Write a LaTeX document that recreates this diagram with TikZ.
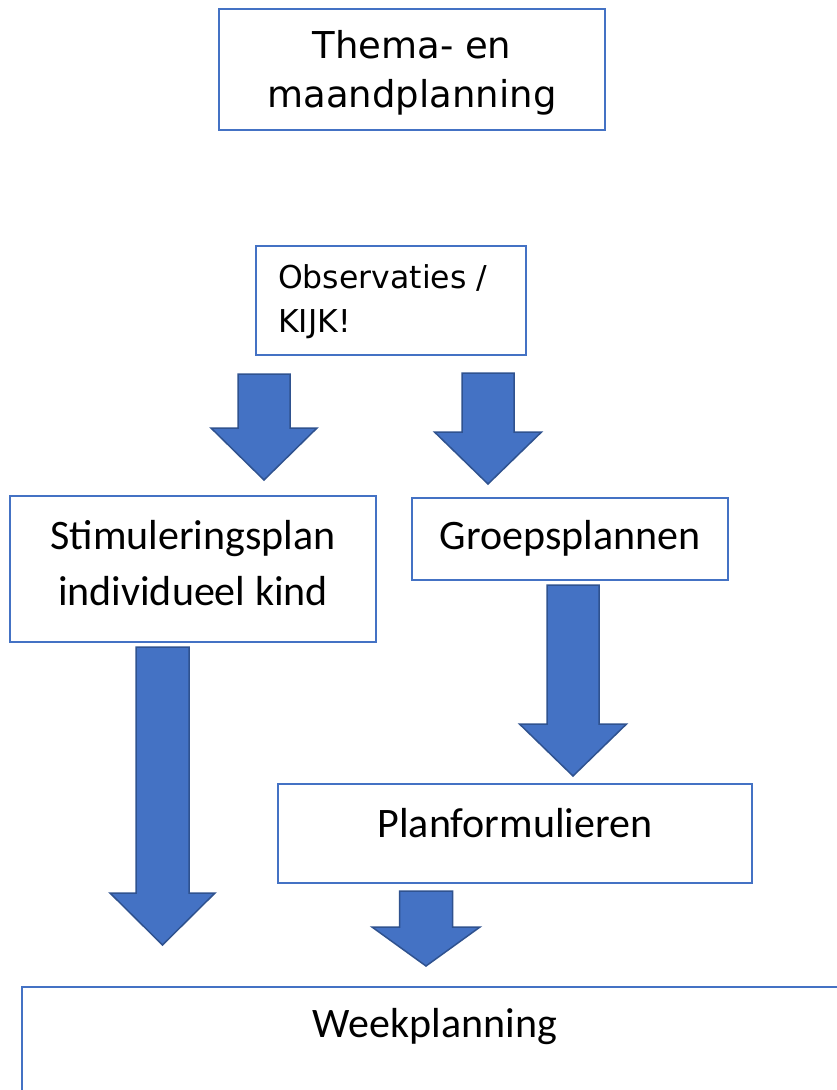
\documentclass[tikz,border=0pt]{standalone}
\usepackage{fontspec}
\setmainfont{DejaVu Sans}
\newfontfamily\calib{Carlito}
\definecolor{boxblue}{HTML}{4472C4}
\definecolor{arrowfill}{HTML}{4472C4}
\definecolor{arrowedge}{HTML}{2F528F}
\tikzset{
  box/.style={draw=boxblue, line width=2pt, fill=white, rectangle, inner sep=0pt},
  blockarrow/.style={fill=arrowfill, draw=arrowedge, line width=1.5pt, line join=miter},
  verd/.style={font=\fontsize{37}{44}\selectfont, inner sep=0pt},
  verdsmall/.style={font=\fontsize{31.5}{38}\selectfont, inner sep=0pt},
  cal/.style={font=\calib\fontsize{42}{50}\selectfont, inner sep=0pt}
}
\newcommand\bigdownarrow[6]{% cx, top, head base, tip, shaft half width, head half width
  \draw[blockarrow] (#1-#5,#2) -- (#1+#5,#2) -- (#1+#5,#3) -- (#1+#6,#3) -- (#1,#4) -- (#1-#6,#3) -- (#1-#5,#3) -- cycle;}
\begin{document}
\begin{tikzpicture}[x=1pt,y=-1pt]
\useasboundingbox (0,0) rectangle (837,1090);
\clip (0,0) rectangle (837,1090);
\fill[white] (0,0) rectangle (837,1090);

% boxes
\node[box, minimum width=386pt, minimum height=121pt] (thema) at (412,69.5) {};
\node[box, minimum width=270pt, minimum height=109pt] (obs) at (391,300.5) {};
\node[box, minimum width=366pt, minimum height=146pt] (stim) at (193,569) {};
\node[box, minimum width=316pt, minimum height=82pt] (groep) at (570,539) {};
\node[box, minimum width=474pt, minimum height=99pt] (plan) at (515,833.5) {};
\node[box, anchor=north west, minimum width=900pt, minimum height=200pt] (week) at (21,986) {};

% texts
\node[verd, anchor=base] (thema1) at (412,58) {Thema- en};
\node[verd, anchor=base] (thema2) at (412,107) {maandplanning};
\node[verdsmall, anchor=base west] (obs1) at (278,288) {Observaties /};
\node[verdsmall, anchor=base west] (obs2) at (278,332) {KIJK!};
\node[cal, anchor=base] (stim1) at (193,549) {Stimuleringsplan};
\node[cal, anchor=base] (stim2) at (193,605) {individueel kind};
\node[cal, anchor=base] (groep1) at (570,549) {Groepsplannen};
\node[cal, anchor=base] (plan1) at (515,837) {Planformulieren};
\node[cal, anchor=base] (week1) at (435,1037) {Weekplanning};

% block arrows
\bigdownarrow{264}{374}{428}{480}{26}{53}
\bigdownarrow{488}{373}{432}{484}{26}{53.5}
\bigdownarrow{162.5}{647}{893}{945}{26.5}{52.5}
\bigdownarrow{573}{585}{724}{776}{26}{53.5}
\bigdownarrow{426}{891}{927}{966}{26.5}{54}
\end{tikzpicture}
\end{document}
